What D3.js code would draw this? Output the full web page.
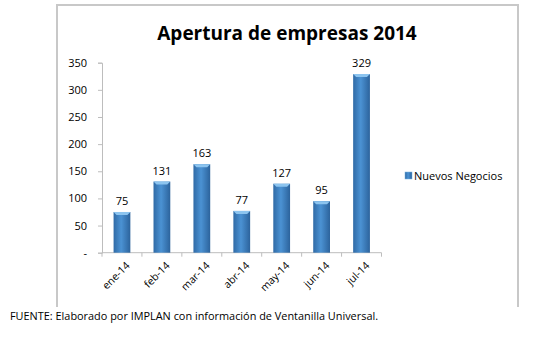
<!DOCTYPE html>
<html>
<head>
<meta charset="utf-8">
<script src="https://cdn.jsdelivr.net/npm/d3@7"></script>
<style>
  body { margin: 0; background: #fff; }
  svg { display: block; }
  text { font-family: "Open Sans", "DejaVu Sans", sans-serif; fill: #000; }
</style>
</head>
<body>
<svg width="550" height="341"></svg>
<script>
// chart data
var months = ["ene-14", "feb-14", "mar-14", "abr-14", "may-14", "jun-14", "jul-14"];
var nuevos = [75, 131, 163, 77, 127, 95, 329];
var yTicks = [0, 50, 100, 150, 200, 250, 300, 350];
var seriesName = "Nuevos Negocios";
var title = "Apertura de empresas 2014";
var fuente = "FUENTE: Elaborado por IMPLAN con información de Ventanilla Universal.";

var svg = d3.select("svg");

var data = months.map(function (m, i) { return { month: m, value: nuevos[i] }; });

// gradient for the bars
var defs = svg.append("defs");
var grad = defs.append("linearGradient").attr("id", "barGrad")
  .attr("x1", "0%").attr("x2", "100%").attr("y1", "0%").attr("y2", "0%");
grad.append("stop").attr("offset", "0%").attr("stop-color", "#2f6aa6");
grad.append("stop").attr("offset", "45%").attr("stop-color", "#4b92d3");
grad.append("stop").attr("offset", "100%").attr("stop-color", "#2c639c");

// outer frame (no bottom line)
svg.append("path")
  .attr("d", "M57,307 V5 H518 V307")
  .attr("fill", "none")
  .attr("stroke", "#c8c8c8")
  .attr("stroke-width", 2);

// title
svg.append("text")
  .attr("x", 287).attr("y", 40)
  .attr("text-anchor", "middle")
  .style("font-size", "19px")
  .style("font-weight", "bold")
  .text(title);

// scales
var x = d3.scaleBand().domain(months).range([102, 381.5]).paddingInner(0.58).paddingOuter(0.29);
var y = d3.scaleLinear().domain([0, 350]).range([252.7, 62.7]);

// y axis
var yAxis = d3.axisLeft(y).tickValues(yTicks).tickSize(4).tickPadding(11)
  .tickFormat(function (d) { return d === 0 ? "-" : d; });
var gy = svg.append("g").attr("transform", "translate(102,0)").call(yAxis);
gy.select(".domain").attr("stroke", "#bdbdbd");
gy.selectAll(".tick line").attr("stroke", "#bdbdbd");
gy.selectAll("text").style("font-size", "11px").style("font-family", "Open Sans, sans-serif");

// x axis with ticks between categories
var gx = svg.append("g").attr("transform", "translate(0,252.7)");
gx.append("line").attr("x1", 102).attr("x2", 381.5).attr("y1", 0).attr("y2", 0).attr("stroke", "#bdbdbd");
gx.selectAll(".sep").data(d3.range(months.length + 1)).enter().append("line")
  .attr("x1", function (i) { return 102 + i * (279.5 / months.length); })
  .attr("x2", function (i) { return 102 + i * (279.5 / months.length); })
  .attr("y1", 0).attr("y2", 4)
  .attr("stroke", "#bdbdbd");
gx.selectAll(".lab").data(months).enter().append("text")
  .attr("transform", function (d) {
    return "translate(" + (x(d) + x.bandwidth() / 2 + 6) + ",11) rotate(-45)";
  })
  .attr("text-anchor", "end")
  .attr("dy", "0.35em")
  .style("font-size", "10.5px")
  .text(function (d) { return d; });

// bars
var bars = svg.append("g").selectAll("g.bar").data(data).enter().append("g");
bars.append("rect")
  .attr("x", function (d) { return x(d.month); })
  .attr("y", function (d) { return y(d.value); })
  .attr("width", x.bandwidth())
  .attr("height", function (d) { return y(0) - y(d.value); })
  .attr("fill", "url(#barGrad)");
// light top bevel
bars.append("path")
  .attr("d", function (d) {
    var x0 = x(d.month), w = x.bandwidth(), t = y(d.value);
    return "M" + x0 + "," + t + "H" + (x0 + w) + "L" + (x0 + w - 3) + "," + (t + 3) + "H" + (x0 + 3) + "Z";
  })
  .attr("fill", "#8cc4ef");

// value labels
bars.append("text")
  .attr("x", function (d) { return x(d.month) + x.bandwidth() / 2; })
  .attr("y", function (d) { return y(d.value) - 7; })
  .attr("text-anchor", "middle")
  .style("font-size", "11px")
  .text(function (d) { return d.value; });

// legend
svg.append("rect").attr("x", 405).attr("y", 172).attr("width", 7).attr("height", 7)
  .attr("fill", "url(#barGrad)").attr("stroke", "#7ab3e0").attr("stroke-width", 0.5);
svg.append("text").attr("x", 414).attr("y", 180)
  .style("font-size", "11px")
  .text(seriesName);

// source note
svg.append("text").attr("x", 10).attr("y", 320)
  .style("font-size", "10.9px")
  .text(fuente);
</script>
</body>
</html>
